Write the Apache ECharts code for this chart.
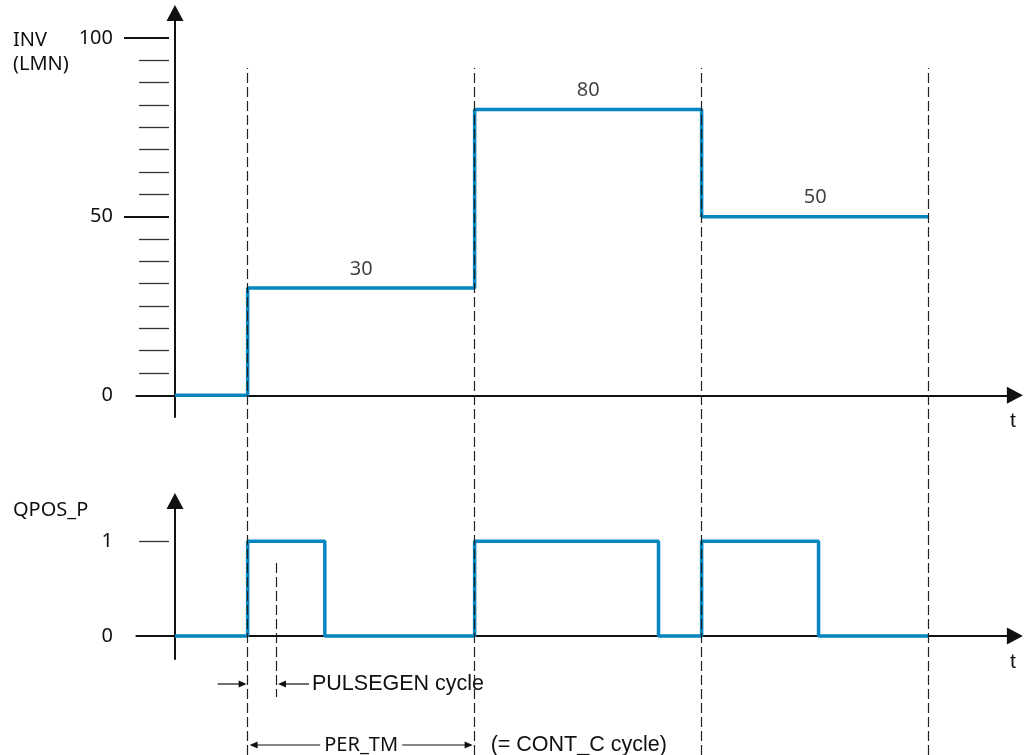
<!DOCTYPE html>
<html>
<head>
<meta charset="utf-8">
<script src="https://cdn.jsdelivr.net/npm/echarts@6.0.0/dist/echarts.min.js"></script>
<style>
  html, body { margin: 0; padding: 0; background: #ffffff; }
  #chart { width: 1024px; height: 755px; }
</style>
</head>
<body>
<div id="chart"></div>
<script>
// Controller (CONT_C) sampling instants in ms, one PER_TM apart
const cycleStarts = [320, 1320, 2320, 3320];
const pulsegenCycle = 125;

// Manipulated value INV (LMN), held constant over each controller cycle
const invTimes = [0, 320, 1320, 2320, 3320];
const invValues = [0, 30, 80, 50, 50];

// Positive pulse output QPOS_P
const qposTimes = [0, 320, 660, 1320, 2130, 2320, 2835, 3320];
const qposValues = [0, 1, 0, 1, 0, 1, 0, 0];

// Tick marks and tick labels
const invLabelTicks = [0, 50, 100];
const invMajorTicks = [50, 100];
const invMinorTicks = [6.25, 12.5, 18.75, 25, 31.25, 37.5, 43.75, 56.25, 62.5, 68.75, 75, 81.25, 87.5, 93.75];
const qposLabelTicks = [0, 1];
const qposMajorTicks = [1];

const T_MIN = -170, T_MAX = 3700;
const INV_MIN = -6.07, INV_MAX = 107.0;
const Q_MIN = -0.243, Q_MAX = 1.4256;

const INK = '#111111';
const BLUE = '#0586c0';
const NUM_FONT = 'Noto Sans';
const SANS = 'Liberation Sans';

const chart = echarts.init(document.getElementById('chart'), null, { renderer: 'canvas' });

const gridBox = { left: 136.4, width: 878.5 };

function mainYAxis(gridIndex, min, max) {
  return {
    type: 'value', gridIndex, min, max,
    axisLine: { show: true, symbol: ['none', 'triangle'], symbolSize: [17, 16],
      lineStyle: { color: INK, width: 2 } },
    axisTick: { show: false }, axisLabel: { show: false }, splitLine: { show: false }
  };
}
function tickYAxis(gridIndex, min, max, ticks, len, width, color, labels) {
  return {
    type: 'value', gridIndex, min, max, position: 'left', offset: -32.6,
    axisLine: { show: false, onZero: false },
    axisTick: { show: true, customValues: ticks, length: len,
      lineStyle: { color, width } },
    axisLabel: labels ? { show: true, customValues: labels, margin: 56,
      color: INK, fontFamily: NUM_FONT, fontSize: 20 } : { show: false },
    splitLine: { show: false }
  };
}
function timeXAxis(gridIndex, show) {
  return {
    type: 'value', gridIndex, min: T_MIN, max: T_MAX, show,
    axisLine: { show, onZero: true, symbol: ['none', 'triangle'], symbolSize: [17, 16],
      lineStyle: { color: INK, width: 2 } },
    axisTick: { show: false }, axisLabel: { show: false }, splitLine: { show: false }
  };
}

const zip = (xs, ys) => xs.map((x, i) => [x, ys[i]]);
const stepLabels = cycleStarts.slice(0, -1).map((t, i) =>
  [(t + cycleStarts[i + 1]) / 2, invValues[i + 1]]);

chart.setOption({
  animation: false,
  backgroundColor: '#ffffff',
  grid: [
    { left: gridBox.left, width: gridBox.width, top: 13, height: 404 },
    { left: gridBox.left, width: gridBox.width, top: 501, height: 158 },
    { left: gridBox.left, width: gridBox.width, top: 68, height: 687 }
  ],
  xAxis: [timeXAxis(0, true), timeXAxis(1, true), timeXAxis(2, false)],
  yAxis: [
    mainYAxis(0, INV_MIN, INV_MAX),
    tickYAxis(0, INV_MIN, INV_MAX, invMinorTicks, 30, 1.3, '#333333', null),
    tickYAxis(0, INV_MIN, INV_MAX, invMajorTicks, 45, 2, INK, invLabelTicks),
    mainYAxis(1, Q_MIN, Q_MAX),
    tickYAxis(1, Q_MIN, Q_MAX, qposMajorTicks, 30, 1.3, '#333333', qposLabelTicks),
    { type: 'value', gridIndex: 2, min: 0, max: 1, show: false, splitLine: { show: false } }
  ],
  series: [
    {
      name: 'INV', type: 'line', xAxisIndex: 0, yAxisIndex: 0,
      data: zip(invTimes, invValues), step: 'end', symbol: 'none', z: 3,
      lineStyle: { color: BLUE, width: 3.5 }
    },
    {
      name: 'INV value', type: 'scatter', xAxisIndex: 0, yAxisIndex: 0,
      data: stepLabels, symbolSize: 0, silent: true,
      label: { show: true, position: 'top', distance: 9,
        formatter: p => String(p.value[1]),
        color: INK, fontFamily: NUM_FONT, fontSize: 20 }
    },
    {
      name: 'QPOS_P', type: 'line', xAxisIndex: 1, yAxisIndex: 3,
      data: zip(qposTimes, qposValues), step: 'end', symbol: 'none', z: 3,
      lineStyle: { color: BLUE, width: 3.5 }
    },
    {
      name: 'cycles', type: 'line', xAxisIndex: 2, yAxisIndex: 5, data: [], z: 6,
      markLine: {
        silent: true, symbol: ['none', 'none'], label: { show: false },
        lineStyle: { type: [10, 4], color: '#222222', width: 1.2 },
        data: cycleStarts.map(t => ({ xAxis: t })).concat([
          [ { coord: [cycleStarts[0] + pulsegenCycle, 0.2795] },
            { coord: [cycleStarts[0] + pulsegenCycle, 0.0844] } ]
        ])
      }
    }
  ]
});

// Dimension arrows and captions, placed through the time axis scale
const px = t => chart.convertToPixel({ xAxisIndex: 2 }, t);
const c0 = px(cycleStarts[0]);
const c1 = px(cycleStarts[1]);
const pg = px(cycleStarts[0] + pulsegenCycle);
const rowA = 684, rowB = 745;

function arrow(xFrom, xTip, y) {
  const dir = xTip > xFrom ? 1 : -1;
  return [
    { type: 'line', silent: true, shape: { x1: xFrom, y1: y, x2: xTip - dir * 6, y2: y },
      style: { stroke: INK, lineWidth: 1.2 } },
    { type: 'polygon', silent: true,
      shape: { points: [[xTip, y], [xTip - dir * 8, y - 3.5], [xTip - dir * 8, y + 3.5]] },
      style: { fill: INK } }
  ];
}
function text(str, x, y, font, align, vAlign) {
  return { type: 'text', silent: true, x, y,
    style: { text: str, font, fill: INK, align: align || 'left', verticalAlign: vAlign || 'middle', lineHeight: 24 } };
}

const mid = (c0 + c1) / 2;
const graphics = []
  .concat(arrow(c0 - 30, c0 - 1, rowA))
  .concat(arrow(pg + 33, pg + 2, rowA))
  .concat([text('PULSEGEN cycle', pg + 36, rowA, '21.5px "' + SANS + '"')])
  .concat(arrow(mid - 41, c0 + 2, rowB))
  .concat(arrow(mid + 41, c1 - 2, rowB))
  .concat([text('PER_TM', mid, rowB, '20px "' + NUM_FONT + '"', 'center')])
  .concat([text('(= CONT_C cycle)', c1 + 16, rowB, '21.5px "' + SANS + '"')])
  .concat([
    text('INV\n(LMN)', 13, 28, '20px "' + NUM_FONT + '"', 'left', 'top'),
    text('QPOS_P', 13, 510, '20px "' + NUM_FONT + '"', 'left', 'middle'),
    text('t', 1013, 421, '21px "' + SANS + '"', 'center', 'middle'),
    text('t', 1013, 662, '21px "' + SANS + '"', 'center', 'middle')
  ]);

chart.setOption({ graphic: graphics });
</script>
</body>
</html>
